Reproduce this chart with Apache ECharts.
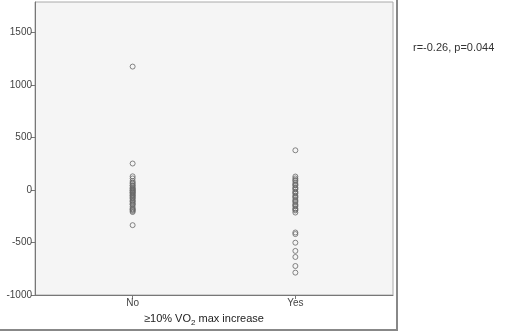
<!DOCTYPE html>
<html>
<head>
<meta charset="utf-8">
<script src="https://cdn.jsdelivr.net/npm/echarts@6/dist/echarts.min.js"></script>
<style>
  html, body { margin: 0; padding: 0; background: #fff; }
  #box { width: 510px; height: 333px; }
</style>
</head>
<body>
<div id="box"></div>
<script>
const aGroups = ['No', 'Yes'];
const aYTicks = [-1000, -500, 0, 500, 1000, 1500];
// 读图估计的值
const aNoVals = [1175, 252, 130, 110, 85, 70, 60, 45, 40, 25, 15, 10, 0, -5, -10, -20, -25, -30, -40,
    -50, -55, -65, -75, -80, -95, -105, -110, -125, -135, -140, -160, -175, -185, -190, -200, -210, -335];
const aYesVals = [378, 128, 110, 95, 85, 65, 50, 45, 25, 15, 5, -15, -25, -35, -55, -65, -75, -95,
    -105, -115, -135, -145, -155, -175, -185, -195, -215, -405, -420, -502, -580, -638, -724, -787];
const sStat = 'r=-0.26, p=0.044';

const oBox = document.getElementById('box');
const myChart = echarts.init(oBox, null, { renderer: 'canvas' });

const oPoint = {
    type: 'scatter',
    symbol: 'circle',
    symbolSize: 5,
    itemStyle: { color: 'transparent', borderColor: '#666', borderWidth: 1 },
    emphasis: { disabled: true },
};

const option = {
    animation: false,
    grid: {
        left: 35, top: 2, width: 358, height: 293,
        show: true,
        backgroundColor: '#f5f5f5',
        borderColor: '#aaa',
        borderWidth: 1,
    },
    xAxis: {
        type: 'value',
        min: -0.6, max: 1.6,
        splitLine: { show: false },
        axisLine: { onZero: false, lineStyle: { color: '#777' } },
        axisTick: { customValues: [0, 1], length: 4, lineStyle: { color: '#777' } },
        axisLabel: {
            customValues: [0, 1],
            formatter: v => aGroups[Math.round(v)],
            color: '#444', fontSize: 10, fontFamily: 'Liberation Sans', margin: 3,
        },
    },
    yAxis: {
        type: 'value',
        min: -1000, max: 1790,
        splitLine: { show: false },
        axisLine: { show: true, onZero: false, lineStyle: { color: '#777' } },
        axisTick: { show: true, customValues: aYTicks, length: 4, lineStyle: { color: '#777' } },
        axisLabel: {
            customValues: aYTicks,
            formatter: v => String(v),
            color: '#444', fontSize: 10, fontFamily: 'Liberation Sans', margin: 3,
        },
    },
    series: [
        { ...oPoint, name: aGroups[0], data: aNoVals.map(v => [0, v]) },
        { ...oPoint, name: aGroups[1], data: aYesVals.map(v => [1, v]) },
    ],
    graphic: [
        { type: 'line', shape: { x1: 397, y1: 0, x2: 397, y2: 331 }, style: { stroke: '#888', lineWidth: 2 } },
        { type: 'line', shape: { x1: 0, y1: 330, x2: 398, y2: 330 }, style: { stroke: '#888', lineWidth: 2 } },
        {
            type: 'text', left: 144, top: 313,
            style: {
                text: '{a|≥10% VO}{s|2}{a| max increase}',
                rich: {
                    a: { fontSize: 11, fontFamily: 'Liberation Sans', fill: '#222', lineHeight: 14, verticalAlign: 'bottom' },
                    s: { fontSize: 8, fontFamily: 'Liberation Sans', fill: '#222', lineHeight: 10, verticalAlign: 'bottom', padding: [0, 0, -3, 0] },
                },
            },
        },
        {
            type: 'text', left: 413, top: 42,
            style: { text: sStat, fontSize: 11, fontFamily: 'Liberation Sans', fill: '#333' },
        },
    ],
};
myChart.setOption(option);
</script>
</body>
</html>
